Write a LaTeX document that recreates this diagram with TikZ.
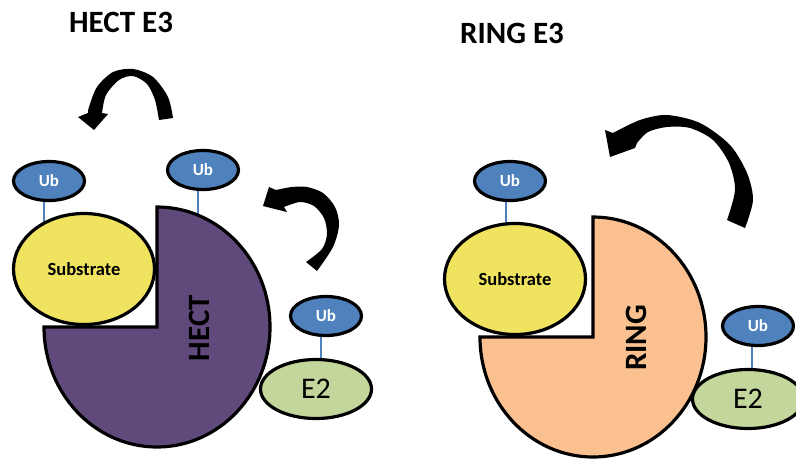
\documentclass[tikz,border=0pt]{standalone}
\usepackage{fontspec}
\setmainfont{Carlito}
\usetikzlibrary{shapes.geometric,calc}
\pgfdeclarelayer{background}
\pgfsetlayers{background,main}
\definecolor{ubblue}{HTML}{4F81BD}
\definecolor{subyellow}{HTML}{EFE35F}
\definecolor{hectpurple}{HTML}{604A7B}
\definecolor{ringpeach}{HTML}{FAC090}
\definecolor{e2green}{HTML}{C3D69B}
\tikzset{
  outl/.style={draw=black,line width=3.2pt},
  ubnode/.style={outl,ellipse,fill=ubblue,minimum width=71pt,minimum height=39pt,inner sep=0pt,
    text=white,font=\bfseries\fontsize{17}{17}\selectfont},
  subnode/.style={outl,ellipse,fill=subyellow,minimum width=141pt,minimum height=111pt,inner sep=0pt,
    font=\bfseries\fontsize{18.5}{18.5}\selectfont},
  e2node/.style={outl,ellipse,fill=e2green,minimum width=111pt,minimum height=59pt,inner sep=0pt,
    font=\fontsize{30}{30}\selectfont},
  title/.style={font=\bfseries\fontsize{31}{31}\selectfont,inner sep=0pt},
  pielabel/.style={font=\bfseries\fontsize{31}{31}\selectfont,rotate=90,inner sep=0pt},
  tether/.style={draw=ubblue,line width=1.2pt},
  bigarrow/.style={fill=black}
}
\begin{document}
\begin{tikzpicture}[x=1pt,y=-1pt]
\useasboundingbox (0,0) rectangle (796,459);

% titles
\node[title] (t1) at (121,22) {HECT E3};
\node[title] (t2) at (512,33) {RING E3};

% ---------- HECT E3 ----------
\draw[outl,fill=hectpurple] (157,327) -- (157,207)
  arc[start angle=-90,end angle=180,x radius=113,y radius=120] -- cycle;
\coordinate (hecttop) at (198,216);
\node[pielabel] (hect) at (199,328) {HECT};
\node[subnode] (sub1) at (84,269) {Substrate};
\node[e2node] (e21) at (316,389) {E2};
\node[ubnode] (ub1) at (49,181) {Ub};
\node[ubnode] (ub2) at (203,170) {Ub};
\node[ubnode] (ub3) at (326,316) {Ub};

% ---------- RING E3 ----------
\draw[outl,fill=ringpeach] (593,337) -- (593,217)
  arc[start angle=-90,end angle=180,x radius=113,y radius=120] -- cycle;
\node[pielabel] (ring) at (636,338) {RING};
\node[subnode] (sub2) at (515,279) {Substrate};
\node[e2node] (e22) at (748,399) {E2};
\node[ubnode] (ub4) at (510,181) {Ub};
\node[ubnode] (ub5) at (758,326) {Ub};

% background and tethers
\begin{pgfonlayer}{background}
\fill[white] (0,0) rectangle (796,459);
\draw[tether] ($(ub1.south)+(-5,0)$) -- ($(ub1.south|-sub1.center)+(-5,0)$);
\draw[tether] ($(ub2.south)+(-5,0)$) -- (hecttop);
\draw[tether] ($(ub3.south)+(-5,0)$) -- ($(ub3.south|-e21.center)+(-5,0)$);
\draw[tether] ($(ub4.south)+(-4,0)$) -- ($(ub4.south|-sub2.center)+(-4,0)$);
\draw[tether] ($(ub5.south)+(-6,0)$) -- ($(ub5.south|-e22.center)+(-6,0)$);
\end{pgfonlayer}

% curved arrows
\fill[bigarrow] plot[smooth] coordinates {(173,118) (168,97) (153,77) (133,69) (113,72) (97,87) (89,107) (88,113)}
  -- (78,117) -- (94,130) -- (108,114) -- (102,113)
  -- plot[smooth] coordinates {(102,113) (106,95) (119,80) (133,76) (147,84) (155,100) (159,120)} -- cycle;

\fill[bigarrow] plot[smooth] coordinates {(317,271) (333,247) (339,225) (335,207) (323,193) (307,187) (292,187) (276,190)}
  -- (269,187) -- (263,206) -- (287,212) -- (284,207)
  -- plot[smooth] coordinates {(284,207) (300,202) (314,206) (324,218) (327,234) (322,249) (306,262)} -- cycle;

\fill[bigarrow] plot[smooth] coordinates {(745,228) (753,200) (747,173) (730,145) (700,123) (667,115) (640,120) (613,133)}
  -- (605,130) -- (610,157) -- (635,148) -- (637,143)
  -- plot[smooth] coordinates {(637,143) (648,132) (667,127) (690,128) (713,140) (729,163) (735,190) (727,220)} -- cycle;
\end{tikzpicture}
\end{document}
